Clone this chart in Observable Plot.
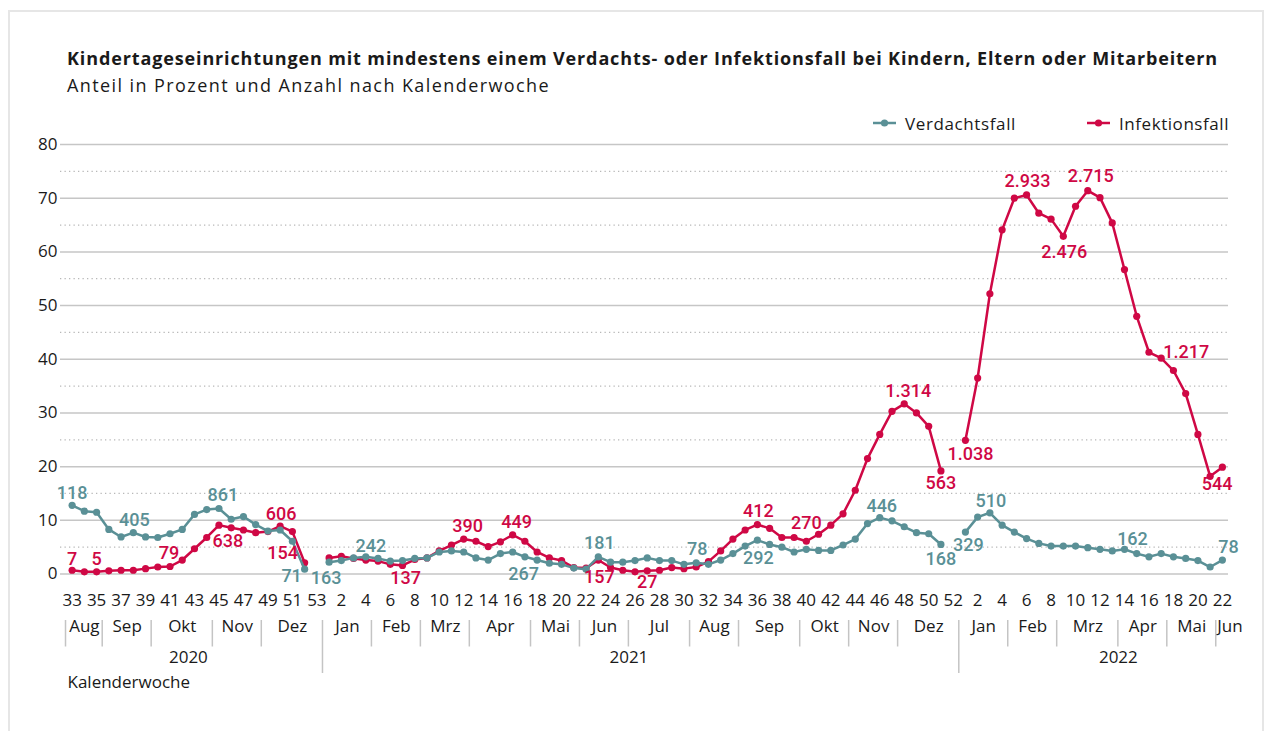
<!DOCTYPE html>
<html><head><meta charset="utf-8">
<script src="https://cdn.jsdelivr.net/npm/d3@7"></script>
<script src="https://cdn.jsdelivr.net/npm/@observablehq/plot@0.6"></script>
<style>
body{margin:0;background:#fff;font-family:"Open Sans",Roboto,sans-serif;color:#1a1a1a;width:1268px;height:731px;overflow:hidden;position:relative}
#frame{position:absolute;left:8px;top:10px;width:1256px;height:740px;border:2px solid #e6e6e6;box-sizing:border-box}
#title{position:absolute;left:67px;top:46px;font-size:18px;font-weight:700;white-space:nowrap}
#subtitle{position:absolute;left:67px;top:73px;font-size:18px;white-space:nowrap}
.lg{position:absolute;top:113px;height:20px;display:flex;align-items:center;font-size:17px;white-space:nowrap}
.lg svg{margin-right:9px}
#chart{position:absolute;left:0;top:100px}
</style></head>
<body>
<div id="frame"></div>
<div id="title">Kindertageseinrichtungen mit mindestens einem Verdachts- oder Infektionsfall bei Kindern, Eltern oder Mitarbeitern</div>
<div id="subtitle">Anteil in Prozent und Anzahl nach Kalenderwoche</div>
<div id="legend"></div>
<div id="chart"></div>
<script>
// ---------- data ----------
const seriesNames = ["Verdachtsfall", "Infektionsfall"];
const years = [2020, 2021, 2022];
const weeks2020 = d3.range(33, 54);   // KW 33..53
const weeks2021 = d3.range(1, 53);    // KW 1..52
const weeks2022 = d3.range(1, 23);    // KW 1..22

const verdacht2020 = [12.8,11.7,11.5,8.3,6.9,7.7,6.9,6.8,7.5,8.3,11.1,12.0,12.2,10.2,10.7,9.2,8.0,8.2,6.1,0.9,null];
const infekt2020   = [0.7,0.4,0.4,0.6,0.7,0.7,1.0,1.3,1.4,2.6,4.7,6.8,9.1,8.6,8.2,7.7,7.9,8.9,7.9,2.1,null];

const verdacht2021 = [2.2,2.5,3.0,3.2,2.9,2.4,2.5,2.9,3.0,4.1,4.3,4.1,3.0,2.6,3.8,4.1,3.2,2.6,2.0,1.8,1.1,0.9,3.2,2.2,2.2,2.5,3.0,2.5,2.5,1.8,2.1,1.8,2.6,3.8,5.2,6.3,5.5,5.0,4.1,4.6,4.4,4.4,5.4,6.5,9.4,10.5,9.9,8.8,7.7,7.5,5.5,null];
const infekt2021   = [3.0,3.3,2.9,2.6,2.4,1.8,1.6,2.7,3.0,4.3,5.4,6.5,6.1,5.1,6.0,7.3,6.1,4.1,3.0,2.5,1.2,1.1,2.6,1.2,0.7,0.4,0.6,0.7,1.2,1.0,1.3,2.3,4.3,6.5,8.2,9.2,8.5,6.8,6.8,6.1,7.4,9.1,11.2,15.6,21.5,26.0,30.3,31.7,30.0,27.5,19.2,null];

const verdacht2022 = [7.8,10.6,11.4,9.1,7.8,6.6,5.7,5.2,5.2,5.2,4.9,4.6,4.3,4.6,3.8,3.2,3.8,3.2,2.9,2.5,1.3,2.6];
const infekt2022   = [24.9,36.5,52.2,64.1,70.0,70.6,67.2,66.1,62.9,68.5,71.4,70.1,65.4,56.7,48.0,41.3,40.2,37.9,33.6,26.0,18.2,19.9];

// tick labels
const yTicks = [0,10,20,30,40,50,60,70,80];
const yMinorTicks = [5,15,25,35,45,55,65,75];
const weekTicks2020 = [33,35,37,39,41,43,45,47,49,51,53];
const weekTicks2021 = [2,4,6,8,10,12,14,16,18,20,22,24,26,28,30,32,34,36,38,40,42,44,46,48,50,52];
const weekTicks2022 = [2,4,6,8,10,12,14,16,18,20,22];

// months (name, first calendar week)
const months2020 = ["Aug","Sep","Okt","Nov","Dez"];
const monthStart2020 = [33,36,40,45,49];
const months2021 = ["Jan","Feb","Mrz","Apr","Mai","Jun","Jul","Aug","Sep","Okt","Nov","Dez"];
const monthStart2021 = [1,5,9,13,18,22,26,31,35,40,44,48];
const months2022 = ["Jan","Feb","Mrz","Apr","Mai","Jun"];
const monthStart2022 = [1,5,9,14,18,22];
const yearLabelWeek = [42.5, 25.5, 13.5];

// count labels: series, year, week, text
const countLabels = [
  ["Verdachtsfall",2020,33,"118"],["Verdachtsfall",2020,38,"405"],["Verdachtsfall",2020,45,"861"],["Verdachtsfall",2020,52,"71"],
  ["Verdachtsfall",2021,1,"163"],["Verdachtsfall",2021,4,"242"],["Verdachtsfall",2021,16,"267"],["Verdachtsfall",2021,23,"181"],
  ["Verdachtsfall",2021,31,"78"],["Verdachtsfall",2021,36,"292"],["Verdachtsfall",2021,46,"446"],["Verdachtsfall",2021,51,"168"],
  ["Verdachtsfall",2022,1,"329"],["Verdachtsfall",2022,3,"510"],["Verdachtsfall",2022,14,"162"],["Verdachtsfall",2022,22,"78"],
  ["Infektionsfall",2020,33,"7"],["Infektionsfall",2020,35,"5"],["Infektionsfall",2020,41,"79"],["Infektionsfall",2020,45,"638"],
  ["Infektionsfall",2020,50,"606"],["Infektionsfall",2020,52,"154"],
  ["Infektionsfall",2021,7,"137"],["Infektionsfall",2021,12,"390"],["Infektionsfall",2021,16,"449"],["Infektionsfall",2021,23,"157"],
  ["Infektionsfall",2021,27,"27"],["Infektionsfall",2021,36,"412"],["Infektionsfall",2021,40,"270"],["Infektionsfall",2021,48,"1.314"],
  ["Infektionsfall",2021,51,"563"],
  ["Infektionsfall",2022,1,"1.038"],["Infektionsfall",2022,6,"2.933"],["Infektionsfall",2022,9,"2.476"],["Infektionsfall",2022,11,"2.715"],
  ["Infektionsfall",2022,17,"1.217"],["Infektionsfall",2022,21,"544"]
];

// ---------- layout / style ----------
const colors = ["#5a9096", "#cf0845"];
const labelOffsets = [
  [0,-12],[1,-12],[4,-13],[-13,7],
  [-3,16],[5,-11],[11,22],[1,-14],
  [1,-13],[1,18],[2,-11],[0,15],
  [3,13],[1,-12],[8,-10],[6,-13],
  [0,-11],[0,-13],[-1,-13],[9,16],
  [1,-12],[-22,-9],
  [3,13],[4,-13],[4,-13],[1,17],
  [0,11],[1,-13],[0,-18],[4,-13],
  [0,12],
  [5,14],[1,-14],[1,16],[3,-14],
  [25,-6],[7,8]
];

// ---------- build table ----------
const yearWeeks = [weeks2020, weeks2021, weeks2022];
const yearSeries = [[verdacht2020, infekt2020],[verdacht2021, infekt2021],[verdacht2022, infekt2022]];
const yearOffset = {};
let acc = 0;
years.forEach((y, k) => { yearOffset[y] = acc - yearWeeks[k][0]; acc += yearWeeks[k].length; });
const pos = (year, week) => yearOffset[year] + week;
const yearEnd = {2020: 53, 2021: 52, 2022: 22};

const rows = [];
years.forEach((y, k) => {
  yearWeeks[k].forEach((w, j) => {
    seriesNames.forEach((s, si) => {
      const v = yearSeries[k][si][j];
      rows.push({i: pos(y, w), series: s, v: v == null ? NaN : v});
    });
  });
});
const valueAt = (s, y, w) => rows.find(r => r.series === s && r.i === pos(y, w)).v;

const weekTickRows = [
  ...weekTicks2020.map(w => ({i: pos(2020, w), t: String(w)})),
  ...weekTicks2021.map(w => ({i: pos(2021, w), t: String(w)})),
  ...weekTicks2022.map(w => ({i: pos(2022, w), t: String(w)}))
];

const monthRows = [];
[[2020, months2020, monthStart2020],[2021, months2021, monthStart2021],[2022, months2022, monthStart2022]].forEach(([y, names, starts]) => {
  names.forEach((n, j) => {
    const a = pos(y, starts[j]) - 0.5;
    const b = (j + 1 < starts.length ? pos(y, starts[j + 1]) : pos(y, yearEnd[y]) + 1) - 0.5;
    monthRows.push({name: n, a, b, c: (a + b) / 2, yearStart: j === 0 && y !== 2020, narrow: (b - a) < 2});
  });
});
const yearRows = years.map((y, k) => ({i: pos(y, yearLabelWeek[k]), t: String(y)}));

// ---------- legend ----------
const legend = document.getElementById("legend");
const legendX = [873, 1087];
seriesNames.forEach((s, k) => {
  const d = document.createElement("div");
  d.className = "lg";
  d.style.left = legendX[k] + "px";
  d.innerHTML = `<svg width="23" height="10"><line x1="0" x2="23" y1="5" y2="5" stroke="${colors[k]}" stroke-width="2.5"/><circle cx="11.5" cy="5" r="3.6" fill="${colors[k]}"/></svg><span>${s}</span>`;
  legend.appendChild(d);
});

// fit header texts to the reference widths
function fitWidth(el, target) {
  el.style.letterSpacing = "0px";
  const w = el.getBoundingClientRect().width;
  const n = el.textContent.length;
  el.style.letterSpacing = ((target - w) / n).toFixed(3) + "px";
}
fitWidth(document.getElementById("title"), 1151);
fitWidth(document.getElementById("subtitle"), 483);
const lgSpans = document.querySelectorAll(".lg span");
fitWidth(lgSpans[0], 111);
fitWidth(lgSpans[1], 110);

// ---------- plot ----------
const W = 1268, H = 631, mT = 44, mB = 157.5, mL = 60, mR = 40;
const textCol = "#1a1a1a";

const separators = (index, scales, values, dims) => {
  const g = d3.create("svg:g");
  const base = dims.height - dims.marginBottom;
  monthRows.forEach(m => {
    const long = m.yearStart;
    g.append("line").attr("x1", scales.x(m.a)).attr("x2", scales.x(m.a))
      .attr("y1", base + 46.5).attr("y2", base + (long ? 99.5 : 73))
      .attr("stroke", "#c4c4c4").attr("stroke-width", 1.5);
  });
  return g.node();
};

const labelMarks = countLabels.map((l, k) => Plot.text([l], {
  x: d => pos(d[1], d[2]),
  y: d => valueAt(d[0], d[1], d[2]),
  text: d => d[3],
  fill: colors[seriesNames.indexOf(l[0])],
  dx: labelOffsets[k][0], dy: labelOffsets[k][1],
  fontSize: 18, fontWeight: 500, fontFamily: "Roboto, sans-serif"
}));

const chart = Plot.plot({
  width: W, height: H,
  marginTop: mT, marginBottom: mB, marginLeft: mL, marginRight: mR,
  style: {fontFamily: "'Open Sans', Roboto, sans-serif", background: "transparent", color: textCol, overflow: "visible"},
  x: {type: "linear", domain: [-0.95, 94.5], axis: null},
  y: {domain: [0, 80], axis: null},
  color: {domain: seriesNames, range: colors},
  marks: [
    Plot.ruleY(yMinorTicks, {stroke: "#b8b8b8", strokeWidth: 1.2, strokeDasharray: "1.3,3.2"}),
    Plot.ruleY(yTicks, {stroke: "#c6c6c6", strokeWidth: 1.5}),
    Plot.text(yTicks, {y: d => d, text: d => String(d), frameAnchor: "left", dx: -3, textAnchor: "end", fontSize: 17, fill: textCol}),
    Plot.line(rows.filter(r => r.series === "Infektionsfall"), {x: "i", y: "v", stroke: "series", strokeWidth: 2.5}),
    Plot.dot(rows.filter(r => r.series === "Infektionsfall"), {x: "i", y: "v", fill: "series", r: 3.6}),
    Plot.line(rows.filter(r => r.series === "Verdachtsfall"), {x: "i", y: "v", stroke: "series", strokeWidth: 2.5}),
    Plot.dot(rows.filter(r => r.series === "Verdachtsfall"), {x: "i", y: "v", fill: "series", r: 3.6}),
    ...labelMarks,
    Plot.text(weekTickRows, {x: "i", text: "t", frameAnchor: "bottom", dy: 32, fontSize: 17, fill: textCol}),
    Plot.text(monthRows.filter(m => !m.narrow), {x: "c", text: "name", frameAnchor: "bottom", dy: 57.5, fontSize: 17, fill: textCol}),
    Plot.text(monthRows.filter(m => m.narrow), {x: "a", text: "name", frameAnchor: "bottom", dy: 57.5, dx: 1, textAnchor: "start", fontSize: 17, fill: textCol}),
    Plot.text(yearRows, {x: "i", text: "t", frameAnchor: "bottom", dy: 88.5, fontSize: 17, fill: textCol}),
    Plot.text(["Kalenderwoche"], {frameAnchor: "bottom-left", dx: 7, dy: 113.5, textAnchor: "start", fontSize: 17, fill: textCol}),
    separators
  ]
});
document.getElementById("chart").appendChild(chart);
</script>
</body></html>
